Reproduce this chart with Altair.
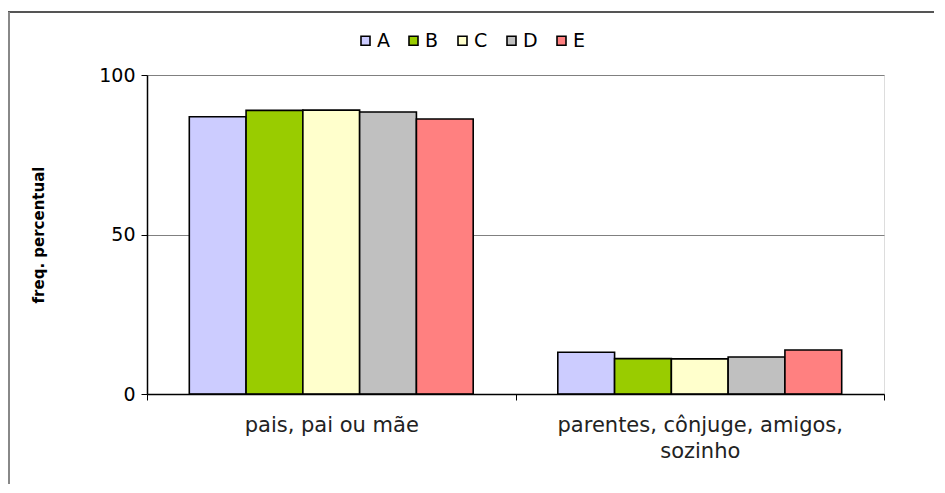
import altair as alt
import pandas as pd

categories = ["pais, pai ou mãe", "parentes, cônjuge, amigos, sozinho"]
series = ["A", "B", "C", "D", "E"]
values_pais = [86.9, 88.9, 89.0, 88.4, 86.2]
values_outros = [13.1, 11.1, 11.0, 11.6, 13.8]
colors = ["#CCCCFF", "#99CC00", "#FFFFCC", "#C0C0C0", "#FF8080"]
y_ticks = [0, 50, 100]

rows = []
for s, v1, v2 in zip(series, values_pais, values_outros):
    rows.append({"cat": categories[0], "serie": s, "valor": v1})
    rows.append({"cat": categories[1], "serie": s, "valor": v2})
df = pd.DataFrame(rows)

W, H = 737, 319
FONT = "DejaVu Sans"

label_expr = (
    "datum.value == 'parentes, cônjuge, amigos, sozinho' ? "
    "['parentes, cônjuge, amigos,', 'sozinho'] : datum.label"
)

bars = alt.Chart(df).mark_bar(stroke="black", strokeWidth=1.6).encode(
    x=alt.X(
        "cat:N",
        sort=categories,
        scale=alt.Scale(paddingInner=0, paddingOuter=0),
        axis=alt.Axis(
            title=None,
            labelExpr=label_expr,
            labelAngle=0,
            labelFont=FONT,
            labelFontSize=21,
            labelColor="#222222",
            labelPadding=14,
            labelLineHeight=26,
            labelLimit=0,
            tickBand="extent",
            tickSize=6,
            tickColor="black",
            domainColor="black",
            domainWidth=1.5,
            zindex=2,
        ),
    ),
    xOffset=alt.XOffset("serie:N", sort=series,
                        scale=alt.Scale(paddingInner=0, paddingOuter=0.745)),
    y=alt.Y(
        "valor:Q",
        scale=alt.Scale(domain=[0, 100], nice=False),
        axis=alt.Axis(
            values=y_ticks,
            title="freq. percentual",
            titleFont=FONT,
            titleFontSize=15,
            titleFontWeight="bold",
            titleColor="black",
            titleX=-109,
            titleY=H / 2,
            titleAngle=270,
            titleAlign="center",
            titleBaseline="middle",
            labelFont=FONT,
            labelFontSize=19,
            labelColor="black",
            labelPadding=6,
            tickSize=6,
            tickColor="black",
            domainColor="black",
            domainWidth=1.5,
            grid=True,
            gridColor="#808080",
            gridWidth=1.2,
            zindex=0,
        ),
    ),
    color=alt.Color(
        "serie:N",
        scale=alt.Scale(domain=series, range=colors),
        legend=alt.Legend(
            title=None,
            orient="none",
            direction="horizontal",
            legendX=209,
            legendY=-44,
            symbolType="square",
            symbolSize=81,
            symbolStrokeColor="black",
            symbolStrokeWidth=1.6,
            labelFont=FONT,
            labelFontSize=19,
            labelColor="black",
            labelOffset=2,
            columnPadding=14,
        ),
    ),
)

frame_df = pd.DataFrame({"k": [0]})
frame_top = alt.Chart(frame_df).mark_rule(color="#555555", strokeWidth=2).encode(
    x=alt.value(-139), x2=alt.value(W + 200), y=alt.value(-63)
)
frame_left = alt.Chart(frame_df).mark_rule(color="#888888", strokeWidth=2).encode(
    x=alt.value(-138), y=alt.value(-63), y2=alt.value(H + 200)
)

chart = alt.layer(bars, frame_top, frame_left).properties(
    width=W,
    height=H,
    autosize=alt.AutoSizeParams(type="none"),
    padding={"left": 139, "top": 67, "right": 50, "bottom": 90},
).configure_view(stroke="#808080", strokeWidth=1.2).configure(background="white")

chart.save("out.html", embed_options={"renderer": "svg", "actions": False})
